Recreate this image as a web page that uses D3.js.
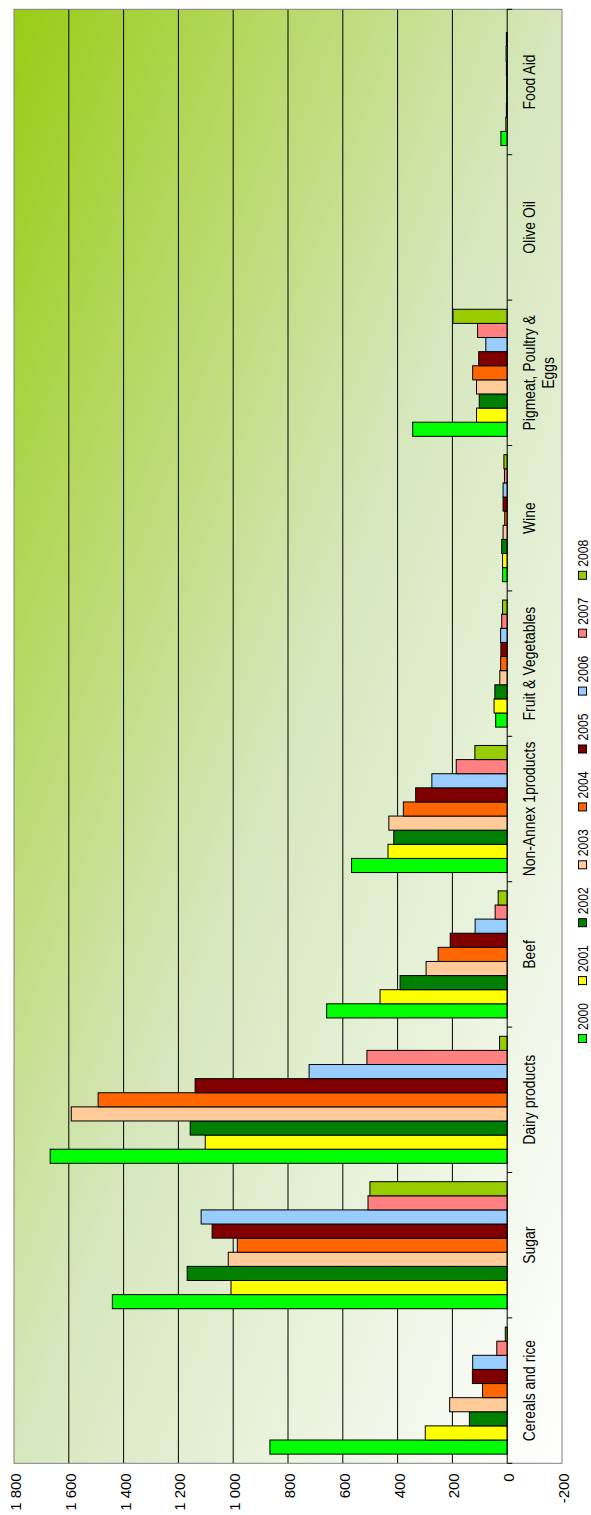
<!DOCTYPE html>
<html>
<head>
<meta charset="utf-8">
<script src="https://cdn.jsdelivr.net/npm/d3@7"></script>
<style>
  html, body { margin: 0; padding: 0; background: #ffffff; }
  svg { display: block; }
</style>
</head>
<body>
<svg id="chart" width="591" height="1515"></svg>
<script>
// ---------- data ----------
const categories = ["Cereals and rice", "Sugar", "Dairy products", "Beef", "Non-Annex 1products",
  "Fruit & Vegetables", "Wine", "Pigmeat, Poultry & Eggs", "Olive Oil", "Food Aid"];
const years = ["2000", "2001", "2002", "2003", "2004", "2005", "2006", "2007", "2008"];
const y2000 = [866, 1441, 1668, 659, 568, 42, 17, 345, 0, 23];
const y2001 = [299, 1008, 1102, 464, 435, 48, 17, 112, 0, 5];
const y2002 = [138, 1168, 1157, 391, 414, 45, 20, 102, 0, 3];
const y2003 = [210, 1018, 1591, 296, 432, 27, 15, 112, 0, 2];
const y2004 = [90, 985, 1493, 252, 379, 24, 9, 126, 0, 2];
const y2005 = [127, 1077, 1139, 208, 334, 23, 15, 104, 0, 3];
const y2006 = [126, 1117, 723, 117, 275, 24, 15, 78, 0, 4];
const y2007 = [38, 508, 512, 44, 186, 20, 10, 108, 0, 3];
const y2008 = [7, 501, 28, 33, 118, 17, 12, 198, 0, 0];
const seriesValues = [y2000, y2001, y2002, y2003, y2004, y2005, y2006, y2007, y2008];
const colors = ["#00ff00", "#ffff00", "#008000", "#ffcc99", "#ff6600", "#800000", "#99ccff", "#ff8080", "#99cc00"];
const valueTicks = [-200, 0, 200, 400, 600, 800, 1000, 1200, 1400, 1600, 1800];

// ---------- layout (drawn unrotated, then turned 90° counter-clockwise) ----------
const W = 1515, H = 591;
const plot = { left: 51.7, right: 1505.7, top: 14, bottom: 562 };
const NARROW = 0.82;

const svg = d3.select("#chart");
const defs = svg.append("defs");
const grad = defs.append("linearGradient").attr("id", "bg")
  .attr("x1", 1).attr("y1", 0).attr("x2", 0).attr("y2", 1);
grad.append("stop").attr("offset", 0).attr("stop-color", "#99cc15");
grad.append("stop").attr("offset", 0.5).attr("stop-color", "#d6e7bd");
grad.append("stop").attr("offset", 1).attr("stop-color", "#ffffff");

const g = svg.append("g").attr("transform", `translate(0,${W}) rotate(-90)`);

const x = d3.scaleBand().domain(categories).range([plot.left, plot.right]).padding(0);
const xs = d3.scaleBand().domain(years).range([0, x.bandwidth()]).paddingInner(0).paddingOuter(0.65);
const y = d3.scaleLinear().domain([-200, 1800]).range([plot.bottom, plot.top]);

const locale = d3.formatLocale({ decimal: ",", thousands: "\u00a0", grouping: [3], currency: ["", ""], minus: "-" });
const fmt = locale.format(",d");

// background
g.append("rect")
  .attr("x", plot.left).attr("y", plot.top)
  .attr("width", plot.right - plot.left).attr("height", plot.bottom - plot.top)
  .attr("fill", "url(#bg)");

// gridlines
g.append("g").selectAll("line")
  .data(valueTicks.filter(v => v !== -200 && v !== 1800 && v !== 0))
  .join("line")
  .attr("x1", plot.left).attr("x2", plot.right)
  .attr("y1", d => y(d)).attr("y2", d => y(d))
  .attr("stroke", "#000").attr("stroke-width", 1);

// border
g.append("rect")
  .attr("x", plot.left).attr("y", plot.top)
  .attr("width", plot.right - plot.left).attr("height", plot.bottom - plot.top)
  .attr("fill", "none").attr("stroke", "#808080").attr("stroke-width", 1);

// bars
const barData = [];
categories.forEach((c, ci) => {
  years.forEach((yr, si) => {
    barData.push({ cat: c, year: yr, value: seriesValues[si][ci], color: colors[si] });
  });
});
g.append("g").selectAll("rect")
  .data(barData)
  .join("rect")
  .attr("x", d => x(d.cat) + xs(d.year))
  .attr("width", xs.bandwidth())
  .attr("y", d => y(Math.max(0, d.value)))
  .attr("height", d => Math.abs(y(d.value) - y(0)))
  .attr("fill", d => d.color)
  .attr("stroke", "#000").attr("stroke-width", 1);

// category axis (zero line + outward ticks at band boundaries)
const catAxis = d3.axisBottom(x).tickSize(0).tickFormat("");
const axG = g.append("g").attr("transform", `translate(0,${y(0)})`).call(catAxis);
axG.select(".domain").attr("stroke", "#000").attr("d", `M${plot.left},0H${plot.right}`);
const boundaries = categories.map(c => x(c)).concat([plot.right]);
axG.selectAll(".bnd").data(boundaries).join("line").attr("class", "bnd")
  .attr("x1", d => d).attr("x2", d => d).attr("y1", 0).attr("y2", 5)
  .attr("stroke", "#000");

// category labels (wrapped)
const labG = g.append("g");
categories.forEach(c => {
  const t = labG.append("text")
    .attr("transform", `translate(${x(c) + x.bandwidth() / 2},535) scale(${NARROW},1)`)
    .attr("text-anchor", "middle")
    .attr("font-family", "'Liberation Sans', Arial, sans-serif")
    .attr("font-size", 17).attr("fill", "#000");
  const words = c.split(" ");
  let line = [];
  let tspan = t.append("tspan").attr("x", 0).attr("dy", 0);
  let lineNo = 0;
  words.forEach(w => {
    line.push(w);
    tspan.text(line.join(" "));
    if (tspan.node().getComputedTextLength() * NARROW > x.bandwidth() - 2 && line.length > 1) {
      line.pop();
      tspan.text(line.join(" "));
      line = [w];
      lineNo++;
      tspan = t.append("tspan").attr("x", 0).attr("dy", 19).text(w);
    }
  });
});

// value axis labels
const valAxis = d3.axisLeft(y).tickValues(valueTicks).tickSize(0).tickPadding(10).tickFormat(fmt);
const vG = g.append("g").attr("transform", `translate(${plot.left},0)`).call(valAxis);
vG.select(".domain").remove();
vG.selectAll("text")
  .attr("font-family", "'Liberation Sans', Arial, sans-serif")
  .attr("font-size", 15).attr("fill", "#000")
  .attr("dy", null).attr("y", 6.5);

// legend
const legG = g.append("g");
years.forEach((yr, i) => {
  const item = legG.append("g").attr("transform", `translate(${472 + i * 57.9},578)`);
  item.append("rect").attr("x", 0.5).attr("y", 0.5).attr("width", 8).attr("height", 8)
    .attr("fill", colors[i]).attr("stroke", "#000").attr("stroke-width", 1);
  item.append("text")
    .attr("transform", `translate(13,10.3) scale(${NARROW},1)`)
    .attr("font-family", "'Liberation Sans', Arial, sans-serif")
    .attr("font-size", 14.8).attr("fill", "#000")
    .text(yr);
});
</script>
</body>
</html>
